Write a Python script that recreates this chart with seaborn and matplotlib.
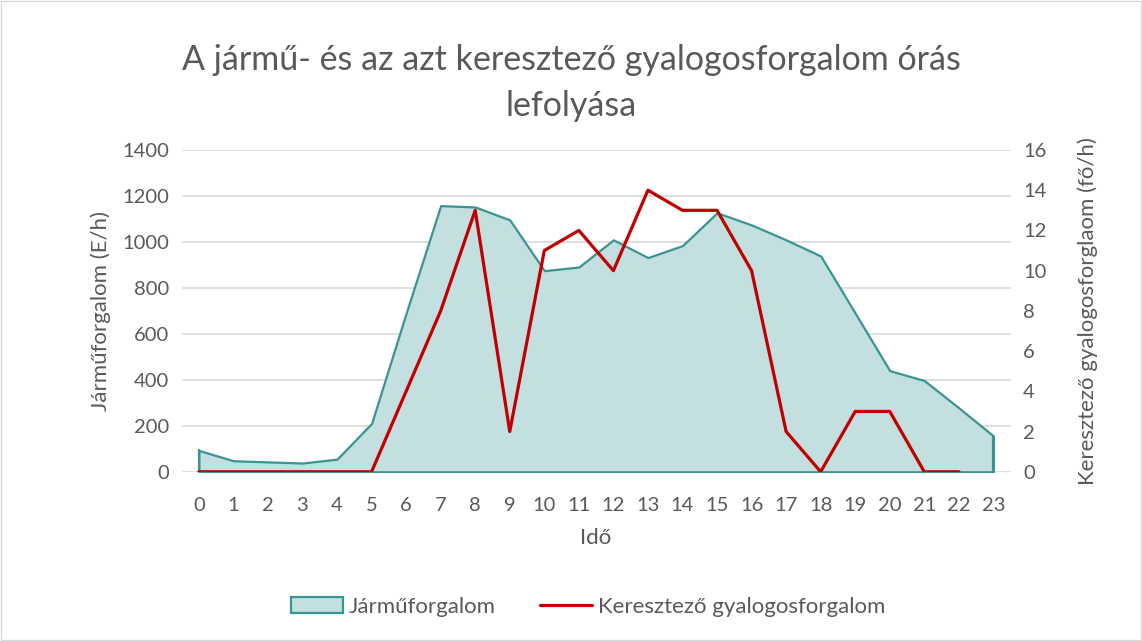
import numpy as np
import pandas as pd
import matplotlib
matplotlib.use("Agg")
import matplotlib.pyplot as plt
from matplotlib.patches import Patch, Rectangle
from matplotlib.lines import Line2D
import seaborn as sns

hours = list(range(24))
jarmu = [93, 48, 43, 38, 55, 210, 690, 1158, 1152, 1096, 875, 891,
         1009, 932, 984, 1127, 1074, 1009, 939, 690, 440, 397, 278, 156]
gyalogos = [0, 0, 0, 0, 0, 0, 4, 8, 13, 2, 11, 12,
            10, 14, 13, 13, 10, 2, 0, 3, 3, 0, 0, np.nan]

title = "A jármű- és az azt keresztező gyalogosforgalom órás\nlefolyása"
left_label = "Járműforgalom (E/h)"
right_label = "Keresztező gyalogosforglaom (fő/h)"
x_label = "Idő"

sns.set_theme(style="white")
plt.rcParams["font.family"] = ["Lato", "DejaVu Sans"]
txt = "#595959"

df = pd.DataFrame({"ora": hours, "jarmu": jarmu, "gyalogos": gyalogos})

fig = plt.figure(figsize=(11.42, 6.41), dpi=100)
ax = fig.add_axes([0.159, 0.264, 0.726, 0.502])
ax2 = ax.twinx()

# vehicle traffic as area
fill_c = "#c4dfdf"
edge_c = "#3a9491"
ax.fill_between(df["ora"], 0, df["jarmu"], facecolor=fill_c, edgecolor=edge_c, linewidth=1.6, zorder=2)
ax.plot([0, 0], [0, jarmu[0]], color=edge_c, lw=1.6, zorder=3)
ax.plot([23, 23], [0, jarmu[-1]], color=edge_c, lw=1.6, zorder=3)

# pedestrian line on secondary axis
red = "#c00000"
sns.lineplot(data=df, x="ora", y="gyalogos", ax=ax2, color=red, linewidth=2.3, legend=False)

ax.set_xlim(-0.5, 23.5)
ax.set_ylim(0, 1400)
ax.set_yticks(range(0, 1401, 200))
ax2.set_ylim(0, 16)
ax2.set_yticks(range(0, 17, 2))
ax.set_xticks(hours)
ax.grid(axis="y", color="#d9d9d9", linewidth=1.2, zorder=0)
ax.set_axisbelow(True)

for a in (ax, ax2):
    for s in a.spines.values():
        s.set_visible(False)
    a.tick_params(length=0, labelsize=14.5, colors=txt, pad=9)
ax.tick_params(axis="x", pad=18)

ax.set_xlabel(x_label, fontsize=16, color=txt, labelpad=10)
ax.set_ylabel(left_label, fontsize=16, color=txt, labelpad=8)
ax2.set_ylabel(right_label, fontsize=16, color=txt, labelpad=22)
ax2.set_xlabel("")

fig.suptitle(title, fontsize=24.5, color=txt, y=0.932, linespacing=1.55)

handles = [Patch(facecolor=fill_c, edgecolor=edge_c, linewidth=1.6),
           Line2D([0], [0], color=red, linewidth=2.3)]
fig.legend(handles, ["Járműforgalom", "Keresztező gyalogosforgalom"], loc="center",
           bbox_to_anchor=(0.515, 0.053), ncol=2, frameon=False, fontsize=16,
           labelcolor=txt, handlelength=2.35, handletextpad=0.25, columnspacing=2.0)

fig.patches.append(Rectangle((0.001, 0.001), 0.998, 0.998, transform=fig.transFigure,
                             fill=False, edgecolor="#d9d9d9", linewidth=1))

plt.savefig("out.png", dpi=100)
plt.close()
